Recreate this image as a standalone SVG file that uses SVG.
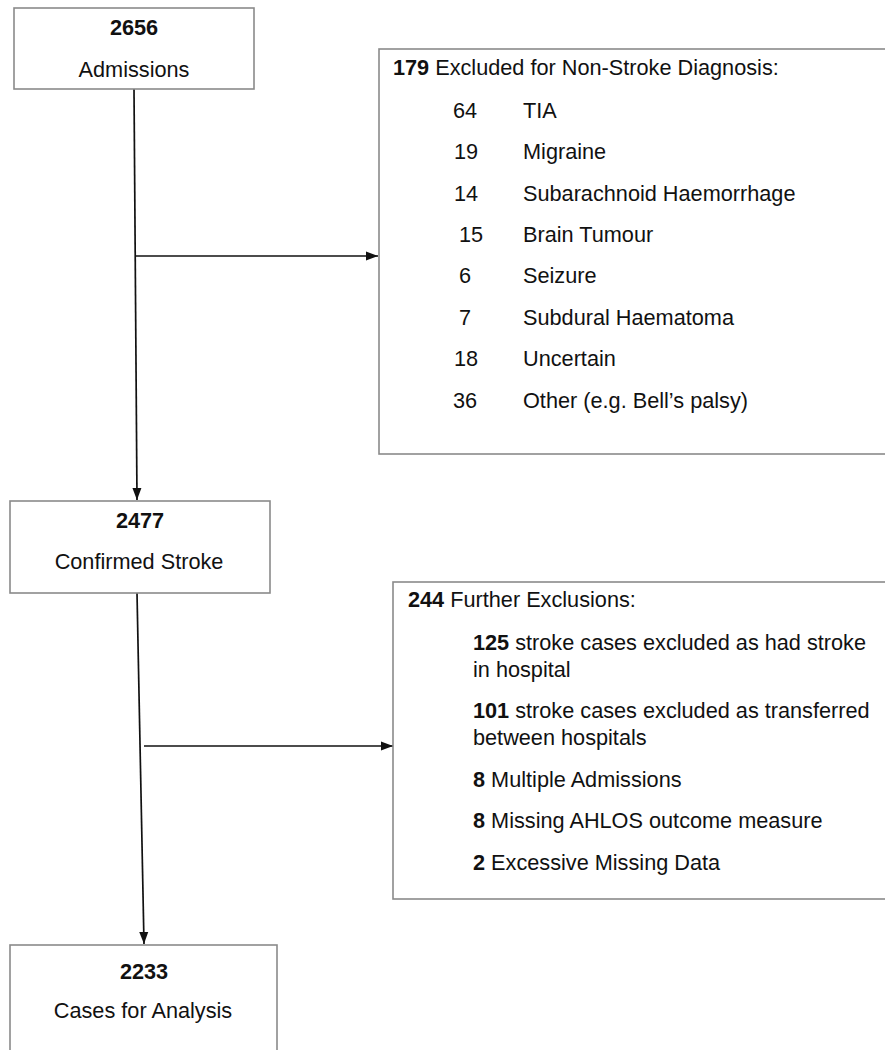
<svg xmlns="http://www.w3.org/2000/svg" width="885" height="1050" viewBox="0 0 885 1050">
<style>
.box{fill:#fff;stroke:#8a8a8a;stroke-width:1.6}
text{font-family:"Liberation Sans",Arial,sans-serif;font-size:21.7px;fill:#111}
.b{font-weight:bold}
.c{text-anchor:middle}
.conn{stroke:#111;stroke-width:1.7;fill:none}
</style>
<defs>
<marker id="ah" viewBox="0 0 12 10" refX="12" refY="5" markerWidth="12" markerHeight="10" markerUnits="userSpaceOnUse" orient="auto">
<path d="M0,0.5 L12,5 L0,9.5 Z" fill="#111"/>
</marker>
</defs>
<rect width="885" height="1050" fill="#fff"/>
<g id="connectors">
<line class="conn" x1="134" y1="89" x2="137" y2="500" marker-end="url(#ah)"/>
<line class="conn" x1="135.5" y1="256" x2="378" y2="256" marker-end="url(#ah)"/>
<line class="conn" x1="137" y1="593" x2="144" y2="944" marker-end="url(#ah)"/>
<line class="conn" x1="144" y1="746" x2="393" y2="746" marker-end="url(#ah)"/>
</g>
<g id="admissions">
<rect class="box" x="14" y="8" width="240" height="81"/>
<text class="b c" x="134" y="35">2656</text>
<text class="c" x="134" y="77">Admissions</text>
</g>
<g id="excluded">
<rect class="box" x="379" y="49" width="512" height="405"/>
<text x="393" y="75"><tspan class="b">179</tspan> Excluded for Non-Stroke Diagnosis:</text>
<text x="453" y="118">64</text><text x="523" y="118">TIA</text>
<text x="454" y="159">19</text><text x="523" y="159">Migraine</text>
<text x="454" y="201">14</text><text x="523" y="201">Subarachnoid Haemorrhage</text>
<text x="459" y="242">15</text><text x="523" y="242">Brain Tumour</text>
<text x="459" y="283">6</text><text x="523" y="283">Seizure</text>
<text x="459" y="325">7</text><text x="523" y="325">Subdural Haematoma</text>
<text x="454" y="366">18</text><text x="523" y="366">Uncertain</text>
<text x="453" y="408">36</text><text x="523" y="408">Other (e.g. Bell’s palsy)</text>
</g>
<g id="confirmed">
<rect class="box" x="10" y="501" width="260" height="92"/>
<text class="b c" x="140" y="528">2477</text>
<text class="c" x="139" y="569">Confirmed Stroke</text>
</g>
<g id="further">
<rect class="box" x="393" y="582" width="498" height="317"/>
<text x="408" y="607"><tspan class="b">244</tspan> Further Exclusions:</text>
<text x="473" y="650"><tspan class="b">125</tspan> stroke cases excluded as had stroke</text>
<text x="473" y="677">in hospital</text>
<text x="473" y="718"><tspan class="b">101</tspan> stroke cases excluded as transferred</text>
<text x="473" y="745">between hospitals</text>
<text x="473" y="787"><tspan class="b">8</tspan> Multiple Admissions</text>
<text x="473" y="828"><tspan class="b">8</tspan> Missing AHLOS outcome measure</text>
<text x="473" y="870"><tspan class="b">2</tspan> Excessive Missing Data</text>
</g>
<g id="analysis">
<rect class="box" x="10" y="945" width="267" height="120"/>
<text class="b c" x="144" y="979">2233</text>
<text class="c" x="143" y="1018">Cases for Analysis</text>
</g>
</svg>
